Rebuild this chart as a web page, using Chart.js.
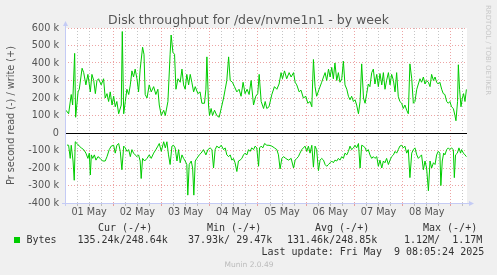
<!DOCTYPE html>
<html>
<head>
<meta charset="utf-8">
<script src="https://cdn.jsdelivr.net/npm/chart.js@4/dist/chart.umd.min.js"></script>
<style>
  html, body { margin: 0; padding: 0; background: #f0f0f0; }
  canvas { display: block; }
</style>
</head>
<body>
<canvas id="graph" width="497" height="275"></canvas>
<script>
// hours since 01 May 00:00, value in k bytes/s
const writeSamples = [
  [0.5,130],[1.8,110],[3.1,220],[3.8,160],[4.8,455],[5.3,90],[6.5,235],[7.1,250],[8.5,370],[9.3,345],
  [10.4,275],[11.4,335],[12.6,235],[13.4,335],[14.3,300],[15.1,225],[15.9,300],[16.7,310],[18.0,275],[19.2,310],
  [20.0,200],[20.9,225],[21.7,180],[22.5,235],[23.4,160],[24.2,210],[25.0,150],[25.8,180],[26.7,110],[28.0,160],
  [28.5,580],[29.2,110],[30.0,180],[30.8,250],[31.7,220],[32.5,275],[33.3,355],[34.1,320],[34.9,365],[35.8,310],
  [36.6,235],[37.4,365],[38.6,490],[39.3,450],[39.9,220],[40.8,200],[41.9,275],[42.9,235],[44.1,265],[45.2,220],
  [46.2,250],[46.9,160],[47.9,100],[49.1,130],[49.9,100],
  [50.2,100],[51.2,180],[52.3,450],[52.8,560],[53.7,460],[54.5,450],[55.2,250],[56.2,310],[57.3,290],[58.2,365],
  [59.0,275],[59.8,250],[60.6,335],[61.5,275],[62.3,335],[63.1,290],[64.0,235],[64.8,265],[66.1,225],[67.2,235],
  [68.1,170],[69.4,170],[70.1,250],[70.6,435],[71.4,160],[71.9,100],[72.7,140],[73.4,100],[74.4,130],[75.5,100],
  [76.7,90],[77.7,140],[78.9,200],[79.7,250],[80.5,300],[81.4,435],[82.2,300],[83.3,290],[84.3,265],[85.5,235],
  [86.6,250],[87.6,210],[88.6,290],[89.6,225],[90.6,250],[91.6,220],[92.6,300],[93.8,160],[94.9,210],[95.9,225],
  [96.6,335],[97.6,180],[98.8,140],[99.6,180],
  [100.4,140],[101.5,150],[102.9,220],[104.2,265],[105.4,250],[106.5,280],[107.5,345],[108.2,310],[109.2,355],[110.3,310],
  [111.5,345],[112.5,320],[113.7,345],[114.5,290],[115.3,275],[116.5,235],[117.4,245],[118.6,200],[119.8,210],[120.8,170],
  [121.9,180],[122.8,150],[123.6,420],[124.4,265],[125.2,210],[126.4,250],[127.7,290],[128.6,320],[129.4,345],[130.2,300],
  [131.1,365],[131.9,320],[132.7,375],[133.5,310],[134.3,400],[135.2,300],[136.0,345],[136.8,290],[137.7,310],[138.5,410],
  [139.3,275],[140.2,250],[141.0,210],[141.8,190],[142.6,210],[143.5,180],[144.3,190],[145.1,160],[146.0,110],[146.8,180],
  [147.6,395],[148.5,200],[149.3,170],[150.1,225],[150.9,280],[151.7,265],[152.6,345],[153.4,365],[154.2,280],[155.1,335],
  [155.9,265],[156.7,340],[157.6,275],[158.4,345],[159.2,250],[160.0,300],[160.9,345],[161.7,275],[162.5,335],[163.4,300],
  [164.2,235],[165.0,345],[165.8,210],[166.6,180],[167.5,170],[168.3,140],[169.1,160],[170.0,130],[170.8,110],[171.6,395],
  [172.5,310],[173.3,170],[174.1,180],[175.0,250],[175.8,280],[176.6,310],[177.4,290],[178.3,320],[179.1,280],[179.9,300],
  [180.8,290],[181.6,265],[182.4,335],[183.3,300],[184.1,320],[184.9,290],[185.7,280],[186.5,290],[187.4,250],[188.2,225],
  [189.0,220],[189.9,180],[190.7,170],[191.5,180],[192.3,150],[193.2,140],[194.0,100],[194.5,70],[195.3,180],[195.7,390],
  [196.3,250],[197.0,150],[197.7,200],[198.3,225],[199.0,180],[199.7,249]
];

// read is plotted below zero (munin negative convention)
const readSamples = [
  [1.0,69],[1.8,70],[2.6,145],[3.1,70],[4.0,160],[4.6,270],[5.1,50],[6.0,60],[7.1,75],[8.1,85],
  [9.3,95],[10.4,115],[11.4,145],[12.1,115],[12.6,240],[13.1,125],[13.8,145],[14.6,125],[15.4,155],[16.4,135],
  [17.5,145],[18.7,160],[20.0,160],[20.9,135],[22.0,95],[23.0,75],[24.2,70],[25.0,115],[25.8,70],[26.7,60],
  [27.5,105],[28.3,210],[29.2,75],[30.0,85],[30.8,105],[31.7,95],[32.5,135],[33.3,95],[34.1,115],[34.9,125],
  [35.8,135],[36.6,125],[37.4,160],[37.9,260],[38.6,145],[39.6,160],[40.8,145],[41.9,125],[42.9,145],[44.1,115],
  [45.2,95],[46.2,75],[46.9,60],[47.9,105],[49.1,50],[49.9,85],
  [50.7,50],[51.5,125],[52.3,180],[53.2,75],[54.0,70],[54.8,85],[55.7,160],[56.5,95],[57.3,170],[58.2,125],
  [59.0,145],[59.8,160],[60.6,180],[61.1,355],[61.8,180],[62.8,160],[63.5,200],[64.1,355],[64.8,160],[65.6,145],
  [66.8,125],[67.7,115],[68.9,95],[70.1,125],[71.1,95],[72.2,85],[73.1,95],[73.9,200],[74.7,95],[75.5,75],
  [76.7,85],[77.7,70],[78.9,95],[79.7,85],[80.5,125],[81.4,135],[82.2,125],[83.0,155],[83.8,145],[84.6,170],
  [85.5,220],[86.3,160],[87.1,155],[88.0,145],[88.8,125],[89.6,115],[90.5,125],[91.3,95],[92.1,105],[92.9,85],
  [93.8,95],[94.6,75],[95.4,85],[96.3,190],[96.8,85],[97.6,75],[98.4,85],[99.3,60],
  [100.4,70],[101.5,70],[102.9,75],[104.2,85],[105.4,95],[106.2,125],[107.0,205],[107.9,145],[108.7,135],[109.8,145],
  [111.2,155],[112.5,145],[113.7,200],[114.5,155],[115.3,145],[116.1,135],[116.9,115],[117.8,95],[118.6,85],[119.4,75],
  [120.3,105],[121.1,75],[121.9,115],[122.8,70],[123.6,195],[124.4,75],[125.2,95],[126.1,215],[126.9,155],[127.7,145],
  [128.6,155],[129.4,180],[130.2,190],[131.1,180],[131.9,170],[132.7,160],[133.5,170],[134.3,155],[135.2,160],[136.0,145],
  [136.8,155],[137.7,135],[138.5,145],[139.3,115],[140.2,125],[141.0,105],[141.8,75],[142.6,95],[143.5,85],[144.3,70],
  [145.1,85],[146.0,60],[146.8,200],
  [147.6,70],[148.5,75],[149.3,85],[150.1,105],[150.9,95],[151.7,125],[152.6,145],[153.4,135],[154.2,145],[155.1,135],
  [155.9,190],[156.7,155],[157.6,200],[158.4,160],[159.2,170],[160.0,145],[160.9,180],[161.7,155],[162.5,135],[163.4,125],
  [164.2,105],[165.0,115],[165.8,95],[166.6,75],[167.5,70],[168.3,85],[169.1,75],[170.0,115],[170.8,95],[171.6,255],
  [172.5,115],[173.3,95],[174.1,85],[175.0,125],[175.8,145],[176.6,135],[177.4,125],[178.3,210],[179.1,160],[179.9,200],
  [180.8,330],[181.6,160],[182.4,200],[183.3,170],[184.1,180],[184.9,125],[185.7,105],[186.5,115],[187.0,300],[187.7,160],
  [188.4,115],[189.0,125],[189.9,95],[190.7,85],[191.5,95],[192.3,85],[193.2,95],[193.7,255],[194.3,125],[195.2,115],
  [196.0,85],[196.8,115],[197.3,95],[198.2,115],[199.0,125],[199.7,135]
];

const dayLabels = ['01 May', '02 May', '03 May', '04 May', '05 May', '06 May', '07 May', '08 May'];

const legendHeads = ['Cur (-/+)', 'Min (-/+)', 'Avg (-/+)', 'Max (-/+)'];
const legendValues = ['135.24k/248.64k', '37.93k/ 29.47k', '131.46k/248.85k', '1.12M/  1.17M'];

const titleText = 'Disk throughput for /dev/nvme1n1 - by week';
const yTitle = 'Pr second read (-) / write (+)';
const lastUpdate = 'Last update: Fri May  9 08:05:24 2025';

const SANS = 'DejaVu Sans';
const MONO = 'DejaVu Sans Mono';
const MAJOR = 'rgba(222,90,90,0.55)';
const MINOR = 'rgba(150,150,150,0.55)';
const AXIS = '#c4cbf5';

const muninDecor = {
  id: 'muninDecor',
  beforeDraw(chart) {
    const { ctx, chartArea: a } = chart;
    ctx.save();
    ctx.fillStyle = '#f0f0f0';
    ctx.fillRect(0, 0, chart.width, chart.height);
    ctx.fillStyle = '#ffffff';
    ctx.fillRect(a.left, a.top, a.right - a.left, a.bottom - a.top);
    ctx.restore();
  },
  beforeDatasetsDraw(chart) {
    const { ctx, chartArea: a } = chart;
    const y0 = Math.round(chart.scales.y.getPixelForValue(0)) + 0.5;
    ctx.save();
    ctx.strokeStyle = '#000';
    ctx.lineWidth = 1;
    ctx.beginPath();
    ctx.moveTo(a.left, y0);
    ctx.lineTo(a.right, y0);
    ctx.stroke();
    ctx.restore();
  },
  afterDraw(chart) {
    const { ctx, chartArea: a } = chart;
    ctx.save();

    // axes with arrow heads
    const ax = a.left + 0.5, ay = a.bottom + 0.5;
    ctx.strokeStyle = AXIS;
    ctx.fillStyle = AXIS;
    ctx.lineWidth = 1;
    ctx.beginPath();
    ctx.moveTo(ax, a.bottom + 3); ctx.lineTo(ax, a.top - 3);
    ctx.moveTo(a.left - 3, ay); ctx.lineTo(a.right + 3, ay);
    ctx.stroke();
    ctx.beginPath();
    ctx.moveTo(ax - 2.5, a.top - 2); ctx.lineTo(ax + 2.5, a.top - 2); ctx.lineTo(ax, a.top - 7);
    ctx.closePath(); ctx.fill();
    ctx.beginPath();
    ctx.moveTo(a.right + 2, ay - 2.5); ctx.lineTo(a.right + 2, ay + 2.5); ctx.lineTo(a.right + 7, ay);
    ctx.closePath(); ctx.fill();

    // title
    ctx.fillStyle = '#555';
    ctx.font = '12.5px "' + SANS + '"';
    ctx.textAlign = 'center';
    ctx.textBaseline = 'alphabetic';
    ctx.fillText(titleText, 248.5, 24);

    // vertical axis title
    ctx.save();
    ctx.translate(14, (a.top + a.bottom) / 2);
    ctx.rotate(-Math.PI / 2);
    ctx.font = '9.7px "' + SANS + '"';
    ctx.fillText(yTitle, 0, 0);
    ctx.restore();

    // rrdtool credit on the right
    ctx.save();
    ctx.translate(485.5, 5);
    ctx.rotate(Math.PI / 2);
    ctx.textAlign = 'left';
    ctx.fillStyle = '#c8c8c8';
    ctx.font = '7px "' + SANS + '"';
    ctx.fillText('RRDTOOL / TOBI OETIKER', 0, 0);
    ctx.restore();

    // legend block
    ctx.textAlign = 'left';
    ctx.fillStyle = '#333';
    ctx.font = '10px "' + MONO + '"';
    const headX = [98, 207, 315, 423];
    legendHeads.forEach((t, i) => ctx.fillText(t, headX[i], 230.5));
    ctx.fillStyle = '#00cc00';
    ctx.fillRect(14, 237, 6, 6);
    ctx.fillStyle = '#333';
    ctx.fillText('Bytes', 26.5, 242.5);
    const valX = [77.5, 188, 287, 404];
    legendValues.forEach((t, i) => ctx.fillText(t, valX[i], 242.5));
    ctx.fillText(lastUpdate, 261.5, 254.5);

    ctx.fillStyle = '#bbb';
    ctx.font = '7.5px "' + SANS + '"';
    ctx.textAlign = 'center';
    ctx.fillText('Munin 2.0.49', 249, 266.5);
    ctx.restore();
  }
};

const lineStyle = {
  borderColor: '#00cc00',
  borderWidth: 1,
  pointRadius: 0,
  fill: false,
  tension: 0
};

new Chart(document.getElementById('graph'), {
  type: 'line',
  data: {
    datasets: [
      { label: 'write', data: writeSamples.map(([h, v]) => ({ x: h, y: v })), ...lineStyle },
      { label: 'read', data: readSamples.map(([h, v]) => ({ x: h, y: -v })), ...lineStyle }
    ]
  },
  options: {
    responsive: false,
    animation: false,
    devicePixelRatio: 1,
    layout: { padding: { left: 0, right: 30, top: 28, bottom: 0 } },
    plugins: {
      legend: { display: false },
      title: { display: false },
      tooltip: { enabled: false }
    },
    scales: {
      x: {
        type: 'linear',
        min: 0,
        max: 200,
        afterFit: s => { s.height = 72; },
        border: { display: false, dash: [1, 2] },
        grid: {
          color: c => (c.tick && c.tick.value % 24 === 0) ? MAJOR : MINOR,
          lineWidth: 1,
          drawTicks: true,
          tickLength: 3
        },
        ticks: {
          stepSize: 6,
          maxTicksLimit: 100,
          autoSkip: false,
          maxRotation: 0,
          includeBounds: false,
          padding: 1,
          color: '#555',
          font: { family: SANS, size: 9.7 },
          callback: v => (v % 24 === 12 ? (dayLabels[(v - 12) / 24] || '') : '')
        }
      },
      y: {
        min: -400,
        max: 600,
        afterFit: s => { s.width = 65; },
        border: { display: false, dash: [1, 2] },
        grid: {
          color: c => {
            if (!c.tick) return MINOR;
            if (c.tick.value === 0) return 'rgba(0,0,0,0)';
            return c.tick.value % 100 === 0 ? MAJOR : MINOR;
          },
          lineWidth: 1,
          drawTicks: false
        },
        ticks: {
          stepSize: 50,
          maxTicksLimit: 100,
          padding: 6,
          color: '#555',
          font: { family: SANS, size: 9.7 },
          callback: v => (v === 0 ? '0' : (v % 100 === 0 ? v + ' k' : ''))
        }
      }
    }
  },
  plugins: [muninDecor]
});
</script>
</body>
</html>
